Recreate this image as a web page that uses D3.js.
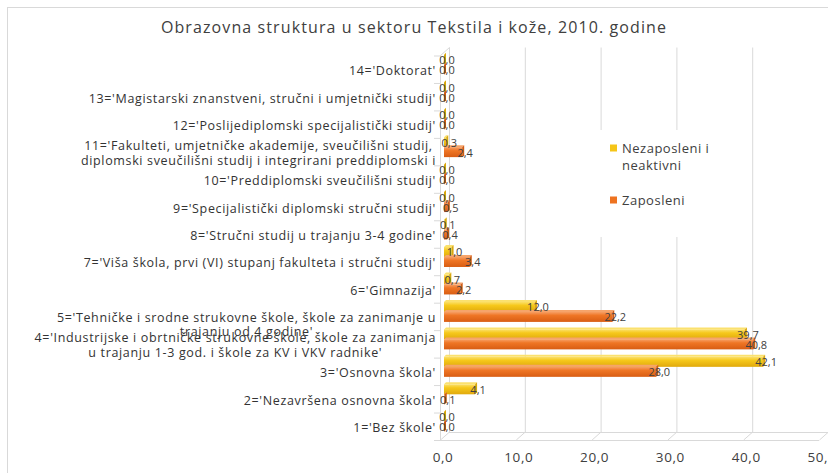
<!DOCTYPE html>
<html>
<head>
<meta charset="utf-8">
<script src="https://cdn.jsdelivr.net/npm/d3@7"></script>
<style>
  body { margin: 0; background: #fff; }
  svg text { font-family: "Open Sans", "DejaVu Sans", sans-serif; fill: #404040; }
</style>
</head>
<body>
<div id="chart"></div>
<script>
// categories bottom (1) to top (14); \n marks a wrapped label
var categories = [
  "1='Bez škole'",
  "2='Nezavršena osnovna škola'",
  "3='Osnovna škola'",
  "4='Industrijske i obrtničke strukovne škole, škole za zanimanja\nu trajanju 1-3 god. i škole za KV i VKV radnike'",
  "5='Tehničke i srodne strukovne škole, škole za zanimanje u\ntrajanju od 4 godine'",
  "6='Gimnazija'",
  "7='Viša škola, prvi (VI) stupanj fakulteta i stručni studij'",
  "8='Stručni studij u trajanju 3-4 godine'",
  "9='Specijalistički diplomski stručni studij'",
  "10='Preddiplomski sveučilišni studij'",
  "11='Fakulteti, umjetničke akademije, sveučilišni studij,\ndiplomski sveučilišni studij i integrirani preddiplomski i",
  "12='Poslijediplomski specijalistički studij'",
  "13='Magistarski znanstveni, stručni i umjetnički studij'",
  "14='Doktorat'"
];
var nezaposleni = [0.0, 4.1, 42.1, 39.7, 12.0, 0.7, 1.0, 0.1, 0.0, 0.0, 0.3, 0.0, 0.0, 0.0];
var zaposleni   = [0.0, 0.1, 28.0, 40.8, 22.2, 2.2, 3.4, 0.4, 0.5, 0.0, 2.4, 0.0, 0.0, 0.0];
var seriesNames = ["Nezaposleni i\nneaktivni", "Zaposleni"];
var xTicks = [0, 10, 20, 30, 40, 50];
var title = "Obrazovna struktura u sektoru Tekstila i kože, 2010. godine";

var width = 828, height = 473;
var depth_x = 9, depth_y = 8;      // 3D offset of the back wall
var bar_dx = 4, bar_dy = -4.5;      // bars sit half way into the depth
var bar_h = 10;
// excel pushed the 5th label down a bit, it runs into label 4
var label_shift = {4: 6.5};

var fmt = d3.formatLocale({decimal: ",", thousands: "."}).format(".1f");

var svg = d3.select("#chart").append("svg")
    .attr("width", width)
    .attr("height", height);

var defs = svg.append("defs");
function gradient(id, stops) {
  var g = defs.append("linearGradient").attr("id", id)
      .attr("x1", 0).attr("y1", 0).attr("x2", 0).attr("y2", 1);
  stops.forEach(function (s) {
    g.append("stop").attr("offset", s[0]).attr("stop-color", s[1]);
  });
}
gradient("g-yellow", [[0, "#fbe06a"], [0.35, "#f6c81b"], [1, "#e0a90c"]]);
gradient("g-orange", [[0, "#f7a066"], [0.35, "#ef7625"], [1, "#d85d13"]]);
var colors = ["#f5c518", "#ee7320"];
var fills = ["url(#g-yellow)", "url(#g-orange)"];
var capColors = ["#d9a60e", "#cf5a14"];

// outer chart border
svg.append("rect")
    .attr("x", 7.5).attr("y", 7.5)
    .attr("width", 860).attr("height", 500)
    .attr("fill", "none").attr("stroke", "#d9d9d9");

// scales: front plane of the 3D box
var x = d3.scaleLinear().domain([0, 50]).range([440, 819]);
var y = d3.scaleBand()
    .domain(d3.range(categories.length).reverse())
    .range([55.5, 440]);

var grid = svg.append("g").attr("stroke", "#d9d9d9").attr("fill", "none");
var topY = y.range()[0], botY = y.range()[1];

// back wall grid lines and floor diagonals
grid.selectAll(".vgrid").data(xTicks).enter().append("line")
    .attr("x1", function (d) { return x(d) + depth_x + 0.5; })
    .attr("x2", function (d) { return x(d) + depth_x + 0.5; })
    .attr("y1", topY - depth_y)
    .attr("y2", botY - depth_y);
grid.selectAll(".floor").data(xTicks).enter().append("line")
    .attr("x1", function (d) { return x(d) + depth_x + 0.5; })
    .attr("y1", botY - depth_y)
    .attr("x2", function (d) { return x(d) + 0.5; })
    .attr("y2", botY);
grid.append("line")
    .attr("x1", x(0) + depth_x).attr("x2", x(50) + depth_x)
    .attr("y1", botY - depth_y + 0.5).attr("y2", botY - depth_y + 0.5);
grid.append("line")
    .attr("x1", x(0)).attr("x2", x(50))
    .attr("y1", botY + 0.5).attr("y2", botY + 0.5);
// left wall
grid.append("line")
    .attr("x1", x(0) + 0.5).attr("x2", x(0) + 0.5)
    .attr("y1", topY).attr("y2", botY);
grid.append("line")
    .attr("x1", x(0) + 0.5).attr("y1", topY)
    .attr("x2", x(0) + depth_x + 0.5).attr("y2", topY - depth_y);
grid.selectAll(".ytick").data(d3.range(categories.length + 1)).enter().append("line")
    .attr("x1", x(0) - 6).attr("x2", x(0))
    .attr("y1", function (i) { return topY + i * y.step() + 0.5; })
    .attr("y2", function (i) { return topY + i * y.step() + 0.5; });

// legend box (hides the grid behind it)
var legend = svg.append("g");
legend.append("rect")
    .attr("x", 597).attr("y", 130).attr("width", 130).attr("height", 107)
    .attr("fill", "#fff");
var legendRows = [{y: 148, i: 0}, {y: 200, i: 1}];
legendRows.forEach(function (r) {
  legend.append("rect")
      .attr("x", 610).attr("y", r.y - 3.5).attr("width", 7).attr("height", 7)
      .attr("fill", colors[r.i]);
  var t = legend.append("text")
      .attr("x", 622).attr("y", r.y)
      .attr("dominant-baseline", "central")
      .style("font-size", "13px")
      .style("letter-spacing", "0.5px");
  seriesNames[r.i].split("\n").forEach(function (line, k) {
    t.append("tspan").attr("x", 622).attr("dy", k ? 17 : 0).text(line);
  });
});

// bars
var series = [nezaposleni, zaposleni];
var bars = svg.append("g");
series.forEach(function (values, s) {
  values.forEach(function (v, i) {
    var yc = y(i) + y.bandwidth() / 2 + bar_dy;
    var y0 = s === 0 ? yc - bar_h : yc;
    var x0 = x(0) + bar_dx, x1 = x(v) + bar_dx;
    var d = 2;
    // top face
    bars.append("path")
        .attr("d", "M" + x0 + "," + y0 + "L" + (x0 + d) + "," + (y0 - d) +
            "L" + (x1 + d) + "," + (y0 - d) + "L" + x1 + "," + y0 + "Z")
        .attr("fill", s === 0 ? "#fbe16e" : "#f6a46a");
    // front face
    bars.append("rect")
        .attr("x", x0).attr("y", y0)
        .attr("width", Math.max(0, x1 - x0)).attr("height", bar_h)
        .attr("fill", fills[s]);
    // end cap
    bars.append("path")
        .attr("d", "M" + x1 + "," + y0 + "L" + (x1 + d) + "," + (y0 - d) +
            "L" + (x1 + d) + "," + (y0 + bar_h - d) + "L" + x1 + "," + (y0 + bar_h) + "Z")
        .attr("fill", capColors[s]);
  });
});

// value labels
var labels = svg.append("g").style("font-size", "11px");
series.forEach(function (values, s) {
  labels.selectAll(".v" + s).data(values).enter().append("text")
      .attr("x", function (v) { return x(v) + bar_dx + 3; })
      .attr("y", function (v, i) {
        var yc = y(i) + y.bandwidth() / 2 + bar_dy;
        return s === 0 ? yc - bar_h / 2 : yc + bar_h / 2;
      })
      .attr("text-anchor", "middle")
      .attr("dominant-baseline", "central")
      .text(fmt);
});

// category labels, wrapped lines centred in their block
var cat = svg.append("g").style("font-size", "12.5px").style("letter-spacing", "0.65px");
categories.forEach(function (label, i) {
  var lines = label.split("\n");
  var g = cat.append("g");
  var yc = y(i) + y.bandwidth() / 2 + 1.5 + (label_shift[i] || 0);
  var lh = label_shift[i] ? 14 : 15;
  var texts = lines.map(function (line, k) {
    return g.append("text")
        .attr("y", yc + (k - (lines.length - 1) / 2) * lh)
        .attr("dominant-baseline", "central")
        .attr("text-anchor", "middle")
        .style("fill", "#333")
        .text(line);
  });
  var w = d3.max(texts, function (t) { return t.node().getComputedTextLength(); });
  texts.forEach(function (t) { t.attr("x", 436 - w / 2); });
});

// x axis tick labels
svg.append("g").style("font-size", "13.5px")
    .selectAll("text").data(xTicks).enter().append("text")
    .attr("x", function (d) { return x(d) + 3; })
    .attr("y", 457)
    .attr("text-anchor", "middle")
    .attr("dominant-baseline", "central")
    .style("letter-spacing", "0.6px")
    .text(fmt);

// title
svg.append("text")
    .attr("x", 414).attr("y", 27)
    .attr("text-anchor", "middle")
    .attr("dominant-baseline", "central")
    .style("font-size", "16px")
    .style("letter-spacing", "1.1px")
    .text(title);
</script>
</body>
</html>
